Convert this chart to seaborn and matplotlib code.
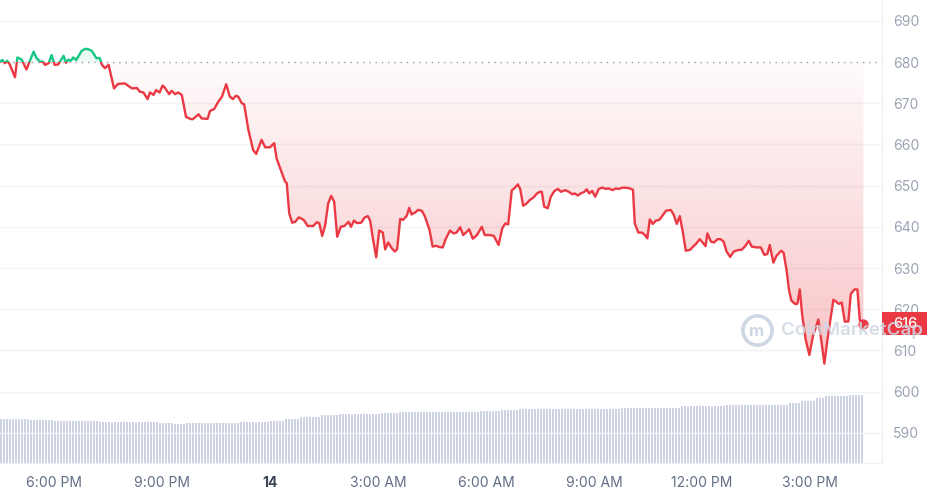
import matplotlib
matplotlib.use("Agg")
import matplotlib.pyplot as plt
from matplotlib.patches import PathPatch, Rectangle
import numpy as np
import seaborn as sns

# Price vertices: minutes after 4:30 PM on the 13th, price in USD
minutes = [0, 4, 8, 12, 16, 25, 29, 36, 44, 56, 61, 67, 71, 75, 81, 86, 91, 97, 106, 110,
           114, 118, 122, 127, 132, 136, 142, 147, 153, 161, 166, 170, 175, 181, 190, 197, 208, 220, 228, 233,
           239, 246, 250, 256, 260, 266, 271, 275, 282, 286, 292, 297, 303, 310, 317, 321, 331, 336, 346, 350,
           357, 364, 370, 377, 383, 388, 393, 397, 403, 407, 414, 422, 427, 436, 442, 450, 457, 461, 470, 475,
           478, 482, 487, 492, 498, 506, 513, 522, 528, 532, 537, 542, 547, 552, 557, 562, 568, 574, 581, 585,
           590, 595, 602, 608, 613, 617, 621, 627, 632, 638, 642, 647, 653, 658, 662, 667, 672, 678, 682, 686,
           692, 697, 703, 708, 716, 721, 727, 732, 738, 743, 750, 756, 761, 767, 772, 778, 782, 788, 795, 803,
           808, 817, 823, 831, 837, 842, 847, 853, 857, 863, 867, 872, 878, 883, 889, 895, 900, 903, 907, 913,
           918, 924, 930, 935, 942, 948, 954, 958, 963, 968, 974, 978, 982, 987, 992, 998, 1004, 1010, 1015, 1021,
           1026, 1032, 1037, 1042, 1048, 1055, 1058, 1064, 1070, 1075, 1079, 1083, 1088, 1093, 1099, 1105, 1110, 1118, 1123, 1128,
           1133, 1138, 1143, 1150, 1156, 1161, 1166, 1171, 1176, 1179, 1185, 1190, 1196, 1201, 1206, 1211, 1217, 1223, 1231, 1236,
           1242, 1248, 1253, 1261, 1268, 1274, 1279, 1283, 1289, 1294, 1302, 1306, 1311, 1315, 1319, 1325, 1329, 1333, 1337, 1343,
           1349, 1355, 1364, 1368, 1374, 1379, 1389, 1394, 1398, 1403, 1408, 1414, 1418, 1424, 1429, 1433, 1439]
prices = [680.1, 680.5, 679.7, 680.3, 679.5, 676.3, 681.1, 680.6, 678.2, 682.5, 680.9, 680.1, 680.1, 679.3, 679.7, 681.7, 679.3, 679.4, 681.5, 679.8,
          680.6, 680.3, 681.1, 680.5, 681.7, 682.7, 683.2, 683.1, 682.7, 680.9, 681.0, 679.3, 678.5, 679.3, 673.6, 674.7, 674.8, 673.6, 673.7, 672.8,
          672.6, 671.0, 672.6, 672.0, 673.2, 672.6, 674.3, 673.7, 672.2, 673.0, 672.2, 672.6, 672.0, 666.7, 666.2, 666.1, 667.3, 666.3, 666.2, 668.1,
          668.6, 670.4, 671.6, 674.6, 671.6, 671.0, 671.8, 671.6, 670.0, 669.7, 663.5, 658.6, 657.7, 661.1, 659.3, 659.3, 660.3, 656.6, 653.0, 651.0,
          650.6, 643.3, 641.0, 641.2, 642.3, 641.7, 640.2, 640.2, 641.1, 640.9, 637.8, 640.4, 645.7, 647.5, 646.1, 637.6, 640.0, 640.2, 641.2, 640.0,
          641.5, 640.9, 641.0, 642.3, 642.6, 641.5, 637.6, 632.6, 639.1, 638.6, 634.5, 636.2, 634.8, 634.0, 634.6, 641.9, 641.7, 642.7, 644.6, 643.0,
          643.5, 644.1, 643.9, 642.6, 639.2, 635.2, 635.4, 635.1, 635.0, 637.1, 639.1, 638.4, 638.6, 639.9, 638.0, 638.8, 639.4, 637.1, 638.0, 640.0,
          638.0, 638.0, 637.8, 635.6, 639.6, 640.8, 640.6, 648.9, 649.3, 650.3, 649.2, 645.1, 645.7, 646.5, 647.1, 648.1, 648.5, 648.5, 644.9, 644.5,
          647.3, 648.7, 649.2, 648.5, 648.9, 648.5, 647.9, 648.1, 647.6, 648.1, 648.5, 649.1, 648.1, 648.7, 647.3, 649.2, 649.5, 649.2, 649.3, 648.9,
          649.3, 649.2, 649.5, 649.5, 649.4, 649.0, 640.8, 638.6, 638.6, 638.0, 637.2, 641.8, 640.7, 641.5, 641.7, 642.9, 643.9, 644.1, 642.9, 640.7,
          642.6, 638.8, 634.2, 634.4, 635.3, 636.0, 637.0, 636.2, 635.3, 638.4, 636.4, 636.2, 637.0, 637.0, 636.4, 634.0, 632.7, 634.0, 634.4, 634.4,
          635.3, 636.6, 635.2, 635.0, 635.0, 633.2, 633.4, 635.6, 631.3, 632.9, 634.2, 633.7, 629.5, 624.7, 622.1, 621.3, 621.3, 624.8, 618.6, 612.5,
          608.9, 613.5, 617.5, 613.3, 606.8, 612.5, 622.3, 621.8, 621.3, 621.6, 617.0, 617.0, 623.7, 624.8, 624.8, 617.4, 616.3]
open_price = 680
last_label = "616"

# Rolling 24h volume, one bar every 5 minutes (USD millions)
volume = [
    1452, 1452, 1452, 1452, 1452, 1452, 1452, 1452, 1452, 1452, 1436, 1436, 1436, 1436, 1436, 1436, 1436, 1436, 1403, 1403, 1403, 1403, 1403, 1403,
    1403, 1386, 1386, 1386, 1386, 1386, 1386, 1386, 1386, 1370, 1370, 1370, 1370, 1370, 1370, 1370, 1370, 1370, 1370, 1370, 1370, 1370, 1370, 1370,
    1370, 1370, 1370, 1370, 1370, 1337, 1337, 1337, 1337, 1337, 1304, 1304, 1304, 1304, 1320, 1320, 1320, 1320, 1320, 1320, 1320, 1320, 1337, 1337,
    1337, 1337, 1337, 1337, 1337, 1337, 1337, 1337, 1370, 1370, 1370, 1370, 1370, 1370, 1370, 1370, 1370, 1370, 1386, 1386, 1386, 1386, 1386, 1469,
    1469, 1469, 1469, 1469, 1535, 1535, 1535, 1535, 1535, 1535, 1535, 1584, 1584, 1584, 1584, 1584, 1584, 1617, 1617, 1617, 1617, 1617, 1617, 1617,
    1617, 1617, 1617, 1617, 1617, 1617, 1617, 1650, 1650, 1650, 1650, 1650, 1650, 1700, 1700, 1700, 1700, 1700, 1700, 1700, 1700, 1700, 1700, 1700,
    1700, 1700, 1700, 1700, 1700, 1700, 1700, 1700, 1700, 1700, 1700, 1700, 1700, 1700, 1700, 1700, 1716, 1716, 1716, 1716, 1716, 1716, 1716, 1766,
    1766, 1766, 1766, 1766, 1766, 1799, 1799, 1799, 1799, 1799, 1799, 1799, 1799, 1799, 1799, 1799, 1799, 1799, 1799, 1799, 1799, 1799, 1799, 1799,
    1799, 1799, 1799, 1799, 1799, 1799, 1799, 1799, 1799, 1799, 1799, 1799, 1799, 1799, 1799, 1832, 1832, 1832, 1832, 1832, 1832, 1832, 1832, 1832,
    1832, 1832, 1832, 1832, 1832, 1832, 1832, 1832, 1832, 1832, 1832, 1898, 1898, 1898, 1898, 1898, 1898, 1898, 1898, 1898, 1898, 1898, 1898, 1898,
    1898, 1898, 1931, 1931, 1931, 1931, 1931, 1931, 1931, 1931, 1931, 1931, 1931, 1931, 1931, 1931, 1931, 1931, 1931, 1931, 1931, 1931, 1931, 1980,
    1980, 1980, 1980, 2046, 2046, 2046, 2046, 2046, 2145, 2145, 2145, 2211, 2211, 2211, 2211, 2211, 2211, 2211, 2211, 2244, 2244, 2244, 2244, 2244,
]

tick_minutes = [90, 270, 450, 630, 810, 990, 1170, 1350]
tick_labels = ["6:00 PM", "9:00 PM", "14", "3:00 AM", "6:00 AM", "9:00 AM", "12:00 PM", "3:00 PM"]
price_ticks = [590, 600, 610, 620, 630, 640, 650, 660, 670, 680, 690]

# Colours
red = "#ea3943"
green = "#16c784"
vol_color = "#cdd3e3"
grid_color = "#f1f3f6"
label_color = "#9aa2b4"
mark_color = "#cfd6e4"

sns.set_theme(style="white")
plt.rcParams["font.family"] = ["Inter", "DejaVu Sans"]

fig = plt.figure(figsize=(9.28, 4.95), dpi=100)
ax = fig.add_axes([0.0, 0.0646, 0.9504, 0.9354])
ax_vol = ax.twinx()

# Volume bars (behind the price), 5 minute slots
bar_x = np.arange(len(volume)) * 5
ax_vol.bar(bar_x, volume, width=3.333, align="edge", color=vol_color, linewidth=0)
ax_vol.set_ylim(0, 15280)
ax_vol.set_yticks([])
for s in ax_vol.spines.values():
    s.set_visible(False)
ax.set_zorder(ax_vol.get_zorder() + 1)
ax.patch.set_visible(False)

x = np.array(minutes)
p = np.array(prices)

# Grid lines
for t in price_ticks:
    if t != open_price:
        ax.axhline(t, color=grid_color, lw=1, zorder=0)
ax.axhline(open_price, color="#9aa0a8", lw=1, ls=(0, (1, 3.5)), zorder=1)

# Red gradient fill between the line and the opening price
poly = ax.fill_between(x, p, open_price, facecolor="none", edgecolor="none")
clip = PathPatch(poly.get_paths()[0], transform=ax.transData, facecolor="none", edgecolor="none")
ax.add_patch(clip)
alpha = np.linspace(0.33, 0.02, 256)
grad = np.zeros((256, 1, 4))
grad[:, 0, :3] = matplotlib.colors.to_rgb(red)
grad[:, 0, 3] = alpha
im = ax.imshow(grad, origin="lower", extent=[0, 1440, 600, open_price], aspect="auto", zorder=1)
im.set_clip_path(clip)

# Light green fill above the opening price
ax.fill_between(x, p, open_price, where=p >= open_price, interpolate=True, color=green, alpha=0.08, lw=0, zorder=1)

# Price line: green above the opening price, red below
sns.lineplot(x=x, y=p, ax=ax, color=red, lw=1.7, estimator=None, sort=False, zorder=3)
sns.lineplot(x=x, y=p, ax=ax, color=green, lw=1.7, estimator=None, sort=False, zorder=3)
red_line, green_line = ax.lines[-2], ax.lines[-1]
red_line.set_clip_path(Rectangle((0, 500), 1500, open_price - 500, transform=ax.transData))
green_line.set_clip_path(Rectangle((0, open_price), 1500, 100, transform=ax.transData))

# Last price dot
ax.scatter([x[-1]], [p[-1]], s=55, color=red, zorder=4, linewidths=0)

# Last price label on the axis
ytrans = ax.get_yaxis_transform()
ax.add_patch(Rectangle((1.0, 613.7), 0.053, 5.6, transform=ytrans, facecolor=red, edgecolor="none", clip_on=False, zorder=5))
ax.text(1.0265, 616.5, last_label, transform=ytrans, ha="center", va="center", color="white", fontsize=10.5,
        fontweight="medium", zorder=5.5, clip_on=False)

# Watermark
ax.plot([0.858], [0.287], marker="o", ms=21, mfc="none", mec=mark_color, mew=2.6, transform=ax.transAxes, zorder=2.5, clip_on=False)
ax.text(0.858, 0.283, "m", transform=ax.transAxes, ha="center", va="center", fontsize=12, fontweight="bold", color=mark_color, zorder=2.5)
ax.text(0.886, 0.287, "CoinMarketCap", transform=ax.transAxes, ha="left", va="center", fontsize=13.5, fontweight="semibold",
        color=mark_color, alpha=0.85, zorder=6, clip_on=False)

# Axes
ax.set_xlim(0, 1470)
ax.set_ylim(582.67, 695.05)
ax.yaxis.tick_right()
ax.set_yticks(price_ticks)
ax.set_yticklabels([str(t) for t in price_ticks])
ax.tick_params(axis="y", length=0, pad=8, labelsize=10, labelcolor=label_color)
ax.set_xticks(tick_minutes)
ax.set_xticklabels(tick_labels)
ax.tick_params(axis="x", length=0, pad=9, labelsize=10, labelcolor="#616e85")
for lbl in ax.get_xticklabels():
    if lbl.get_text() == "14":
        lbl.set_fontweight("bold")
        lbl.set_color("#3d4657")
ax.set_xlabel("")
ax.set_ylabel("")
for name, s in ax.spines.items():
    if name in ("bottom", "right"):
        s.set_color("#eef0f4")
        s.set_linewidth(1)
    else:
        s.set_visible(False)

fig.savefig("out.png", dpi=100)
